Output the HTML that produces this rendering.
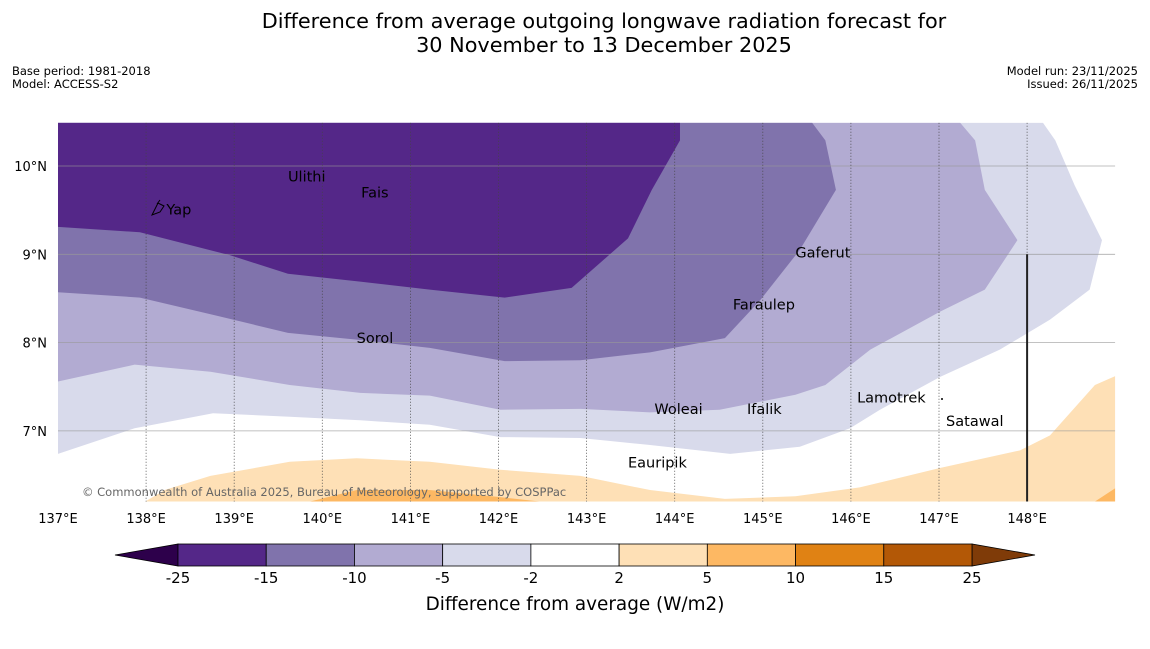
<!DOCTYPE html>
<html><head><meta charset="utf-8"><style>
body{margin:0;background:#fff;font-family:"Liberation Sans","DejaVu Sans",sans-serif}
svg text{font-family:"DejaVu Sans","Liberation Sans",sans-serif}
</style></head><body>
<svg id="c" width="1150" height="644" viewBox="0 0 1150 644">
<rect width="1150" height="644" fill="#fff"/>
<text x="604" y="28" font-size="20.8" text-anchor="middle">Difference from average outgoing longwave radiation forecast for</text>
<text x="604" y="52" font-size="20.8" text-anchor="middle">30 November to 13 December 2025</text>
<text x="12" y="75" font-size="11.5">Base period: 1981-2018</text>
<text x="12" y="88" font-size="11.5">Model: ACCESS-S2</text>
<text x="1138" y="75" font-size="11.5" text-anchor="end">Model run: 23/11/2025</text>
<text x="1138" y="88" font-size="11.5" text-anchor="end">Issued: 26/11/2025</text>
<g id="map"></g>
<g id="cb"></g>
<text x="575" y="610" font-size="18.4" text-anchor="middle">Difference from average (W/m2)</text>
</svg>
<script>
const lonTicks=[137,138,139,140,141,142,143,144,145,146,147,148];
const latTicks=[7,8,9,10];
const contour4=[[137,6.74],[137.87,7.03],[138.76,7.20],[139.63,7.16],[140.43,7.12],[141.22,7.07],[142.02,6.93],[142.93,6.92],[143.72,6.84],[144.63,6.74],[145.42,6.82],[145.99,7.03],[146.33,7.24],[147.01,7.61],[147.69,7.92],[148.26,8.26],[148.71,8.60],[148.85,9.16],[148.54,9.78],[148.32,10.29],[148.18,10.49]];
const contour3=[[137,7.56],[137.87,7.75],[138.73,7.67],[139.63,7.52],[140.43,7.43],[141.22,7.40],[142.02,7.24],[142.93,7.25],[143.72,7.21],[144.51,7.24],[145.37,7.41],[145.71,7.52],[146.22,7.92],[147.01,8.35],[147.52,8.60],[147.89,9.16],[147.52,9.73],[147.41,10.29],[147.24,10.49]];
const contour2=[[137,8.57],[137.93,8.51],[138.78,8.31],[139.61,8.11],[140.43,8.03],[141.22,7.94],[142.07,7.79],[142.93,7.80],[143.72,7.89],[144.57,8.05],[144.97,8.48],[145.42,9.05],[145.83,9.73],[145.71,10.29],[145.56,10.49]];
const contour1=[[137,9.31],[137.93,9.25],[138.95,8.99],[139.61,8.78],[140.43,8.69],[141.22,8.60],[142.07,8.51],[142.83,8.62],[143.47,9.18],[143.74,9.73],[144.06,10.29],[144.06,10.49]];
const contourPos2=[[137.99,6.2],[138.21,6.33],[138.73,6.49],[139.63,6.65],[140.39,6.69],[141.22,6.65],[142.02,6.56],[142.93,6.49],[143.72,6.33],[144.57,6.23],[145.37,6.26],[146.10,6.36],[147.01,6.58],[147.92,6.78],[148.26,6.95],[148.77,7.52],[149,7.62],[149,6.2]];
const contourPos5a=[[139.86,6.2],[140.39,6.33],[141.22,6.33],[142.02,6.25],[142.47,6.2]];
const contourPos5b=[[148.77,6.2],[149,6.35],[149,6.2]];
const islands=[["Ulithi",139.61,9.88],["Fais",140.44,9.7],["Yap",138.23,9.51],["Gaferut",145.37,9.02],["Faraulep",144.66,8.43],["Sorol",140.39,8.05],["Woleai",143.77,7.25],["Ifalik",144.82,7.25],["Lamotrek",146.07,7.38],["Satawal",147.08,7.11],["Eauripik",143.47,6.64]];
const cbBounds=["-25","-15","-10","-5","-2","2","5","10","15","25"];
const cbColors=["#542788","#8073ac","#b2abd2","#d8daeb","#ffffff","#fee0b6","#fdb863","#e08214","#b35806"];

const NS="http://www.w3.org/2000/svg";
const x=lon=>58+(lon-137)*88.1;
const y=lat=>166-(lat-10)*88.3;
const LAT_TOP=10.49, LAT_BOT=6.2, LON_R=149;
function mk(tag,attrs,parent){const e=document.createElementNS(NS,tag);for(const k in attrs)e.setAttribute(k,attrs[k]);parent.appendChild(e);return e;}
const map=document.getElementById('map');
const cp=mk('clipPath',{id:'clip'},map);mk('rect',{x:x(137),y:y(LAT_TOP),width:x(LON_R)-x(137),height:y(LAT_BOT)-y(LAT_TOP)},cp);
const g=mk('g',{'clip-path':'url(#clip)'},map);
function poly(pts,fill,name){const p=mk('polygon',{points:pts.map(q=>x(q[0])+','+y(q[1])).join(' '),fill:fill},g);

}
poly(contour4.concat([[137,LAT_TOP]]),"#d8daeb","region-minus5-minus2");
poly(contour3.concat([[137,LAT_TOP]]),"#b2abd2","region-minus10-minus5");
poly(contour2.concat([[137,LAT_TOP]]),"#8073ac","region-minus15-minus10");
poly(contour1.concat([[137,LAT_TOP]]),"#542788","region-minus25-minus15");
poly(contourPos2,"#fee0b6","region-2-5");
poly(contourPos5a,"#fdb863","region-5-10-west");
poly(contourPos5b,"#fdb863","region-5-10-east");
latTicks.forEach(v=>{
 const l=mk('line',{x1:x(137),x2:x(LON_R),y1:y(v),y2:y(v),stroke:"#999",'stroke-width':0.8,'stroke-opacity':0.8},g);
 
 
 const t=mk('text',{x:47,y:y(v)+5,'font-size':13,'text-anchor':'end'},map);t.textContent=v+"°N";
 
 
});
lonTicks.forEach(v=>{
 if(v>137){const l=mk('line',{x1:x(v),x2:x(v),y1:y(LAT_TOP),y2:y(LAT_BOT),stroke:"#444",'stroke-width':0.8,'stroke-dasharray':'1,2'},g);
 
 }
 const t=mk('text',{x:x(v),y:523,'font-size':13,'text-anchor':'middle'},map);t.textContent=v+"°E";
 
 
});
const bl=mk('line',{x1:x(148),x2:x(148),y1:y(9),y2:y(LAT_BOT),stroke:"#222",'stroke-width':2},g);


islands.forEach(d=>{
 const t=mk('text',{x:x(d[1]),y:y(d[2])+5,'font-size':14.5},map);t.textContent=d[0];
 
 
});
const yi=mk('path',{d:"M152 215 L158 203 L164 206 L160 212 Z M157 204 l3 -4",fill:"none",stroke:"#000",'stroke-width':1},map);


const dot=mk('circle',{cx:942,cy:399,r:1,fill:"#000"},map);


const cr=mk('text',{x:82,y:496,'font-size':11.5,fill:"#666"},map);cr.textContent="© Commonwealth of Australia 2025, Bureau of Meteorology, supported by COSPPac";



const cb=document.getElementById('cb');
const cx0=178,cw=(972-178)/cbColors.length,cy0=544,ch=22;
const lt=mk('polygon',{points:`${cx0},${cy0} ${cx0},${cy0+ch} 115,${cy0+ch/2}`,fill:"#2d004b",stroke:"#000",'stroke-width':0.8},cb);


const rt=mk('polygon',{points:`972,${cy0} 972,${cy0+ch} 1035,${cy0+ch/2}`,fill:"#7f3b08",stroke:"#000",'stroke-width':0.8},cb);


cbColors.forEach((c,i)=>{
 const r=mk('rect',{x:cx0+i*cw,y:cy0,width:cw,height:ch,fill:c,stroke:"#000",'stroke-width':0.8},cb);
 
 
});
cbBounds.forEach((b,i)=>{
 const t=mk('text',{x:cx0+i*cw,y:583,'font-size':15,'text-anchor':'middle'},cb);t.textContent=b;
 
 
});
</script>
</body></html>
